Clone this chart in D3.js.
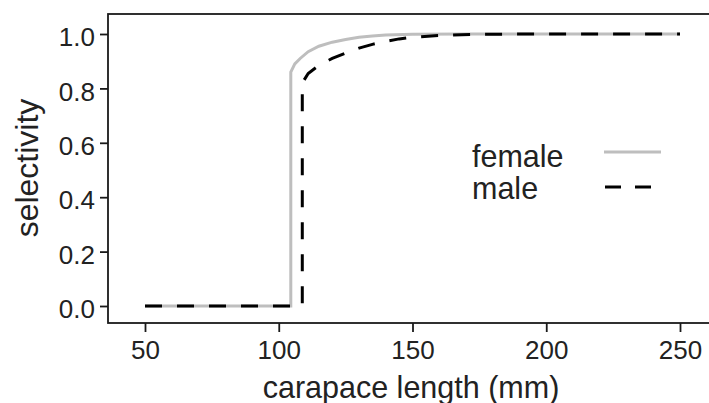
<!DOCTYPE html>
<html><head><meta charset="utf-8">
<script src="https://cdn.jsdelivr.net/npm/d3@7"></script>
<style>body{margin:0;background:#fff}svg{display:block}text{font-family:"Liberation Sans",Arial,sans-serif}</style>
</head><body><svg id="c" width="709" height="403"></svg>
<script>
const femaleX = [50,104.5,104.5,106,108,111,115,120,125,130,135,140,150,170,250];
const femaleY = [0,0,0.86,0.89,0.91,0.935,0.955,0.97,0.98,0.988,0.993,0.996,0.999,1,1];
const maleX = [50,108.8,108.8,111,115,120,125,130,135,140,145,150,160,175,200,250];
const maleY = [0,0,0.82,0.855,0.885,0.91,0.93,0.948,0.962,0.973,0.982,0.988,0.995,0.999,1,1];
const xTicks = [50,100,150,200,250];
const yTicks = [0,0.2,0.4,0.6,0.8,1.0];
const seriesNames = ["female","male"];

const svg = d3.select("#c");
const x = d3.scaleLinear().domain([50,250]).range([145,680]);
const y = d3.scaleLinear().domain([0,1]).range([306,34]);
const pL=108, pT=14, pB=323, pR=712;

svg.append("rect").attr("x",pL).attr("y",pT).attr("width",pR-pL).attr("height",pB-pT)
  .attr("fill","none").attr("stroke","#1a1a1a").attr("stroke-width",1.8);

const yAx = svg.append("g").attr("transform",`translate(${pL},0)`)
  .call(d3.axisLeft(y).tickValues(yTicks).tickFormat(d3.format(".1f")).tickSize(8).tickPadding(5));
const xAx = svg.append("g").attr("transform",`translate(0,${pB})`)
  .call(d3.axisBottom(x).tickValues(xTicks).tickFormat(d3.format("d")).tickSize(9).tickPadding(9));
[yAx,xAx].forEach(g=>{
  g.select(".domain").remove();
  g.selectAll("line").attr("stroke","#1a1a1a").attr("stroke-width",1.8);
  g.selectAll("text").attr("font-size",26).attr("fill","#222").attr("font-family","Liberation Sans, Arial, sans-serif");
});
yAx.selectAll("text").attr("dy","0.45em");

svg.append("text").attr("x",411).attr("y",398).attr("text-anchor","middle").attr("font-size",30.5).attr("fill","#222").text("carapace length (mm)");
svg.append("text").attr("transform","translate(38,168) rotate(-90)").attr("text-anchor","middle").attr("font-size",32).attr("fill","#222").text("selectivity");

const line = d3.line().x(d=>x(d[0])).y(d=>y(d[1]));
const fem = femaleX.map((v,i)=>[v,femaleY[i]]);
const mal = maleX.map((v,i)=>[v,maleY[i]]);
svg.append("path").datum(fem).attr("d",line).attr("fill","none").attr("stroke","#bebebe").attr("stroke-width",3);
svg.append("path").datum(mal).attr("d",line).attr("fill","none").attr("stroke","#000").attr("stroke-width",3)
  .attr("stroke-dasharray","17,15");

// legend
const lg = [{name:seriesNames[0],ly:152,ty:167,stroke:"#bebebe",dash:null},{name:seriesNames[1],ly:187,ty:199,stroke:"#000",dash:"17,15"}];
lg.forEach(d=>{
  svg.append("text").attr("x",472).attr("y",d.ty).attr("font-size",30.5).attr("fill","#222").text(d.name);
  const l = svg.append("line").attr("x1",604).attr("x2",661).attr("y1",d.ly).attr("y2",d.ly)
    .attr("stroke",d.stroke).attr("stroke-width",3);
  if(d.dash) l.attr("stroke-dasharray","16,14").attr("x1",605).attr("x2",656);
});
</script></body></html>
